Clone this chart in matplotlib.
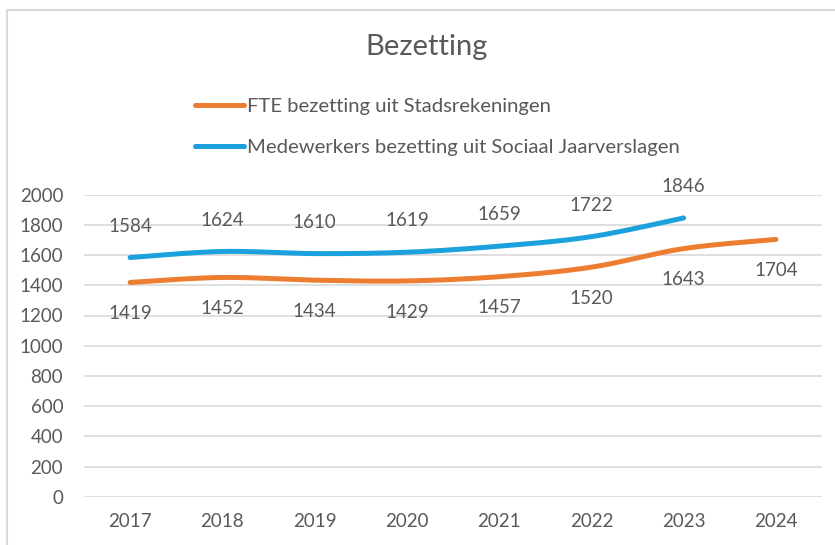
import numpy as np
import matplotlib
matplotlib.use("Agg")
import matplotlib.pyplot as plt
from matplotlib.lines import Line2D

years = ["2017", "2018", "2019", "2020", "2021", "2022", "2023", "2024"]
fte = [1419, 1452, 1434, 1429, 1457, 1520, 1643, 1704]
medewerkers = [1584, 1624, 1610, 1619, 1659, 1722, 1846]
title = "Bezetting"
label_fte = "FTE bezetting uit Stadsrekeningen"
label_med = "Medewerkers bezetting uit Sociaal Jaarverslagen"
yticks = [0, 200, 400, 600, 800, 1000, 1200, 1400, 1600, 1800, 2000]

FONT = ['Lato', 'DejaVu Sans']
plt.rcParams['font.family'] = FONT
TXT = '#595959'
ORANGE = '#ED7D31'
BLUE = '#1BA1DC'
GRID = '#D9D9D9'


def smooth(xs, ys, n=30):
    """Excel-like smoothed line (cubic Bezier with Catmull-Rom controls)."""
    xs = np.asarray(xs, float)
    ys = np.asarray(ys, float)
    P = np.column_stack([xs, ys])
    out = []
    for i in range(len(P) - 1):
        p0 = P[i - 1] if i > 0 else P[i]
        p1 = P[i]
        p2 = P[i + 1]
        p3 = P[i + 2] if i + 2 < len(P) else P[i + 1]
        c1 = p1 + (p2 - p0) / 6.0
        c2 = p2 - (p3 - p1) / 6.0
        t = np.linspace(0, 1, n)[:, None]
        seg = ((1 - t) ** 3) * p1 + 3 * ((1 - t) ** 2) * t * c1 + 3 * (1 - t) * t ** 2 * c2 + t ** 3 * p2
        if i > 0:
            seg = seg[1:]
        out.append(seg)
    out = np.vstack(out)
    return out[:, 0], out[:, 1]


fig = plt.figure(figsize=(8.35, 5.45), dpi=100)
fig.patch.set_facecolor('white')
ax = fig.add_axes([84 / 835, 1 - 496.7 / 545, 738 / 835, 302 / 545])

x_fte = np.arange(len(fte))
x_med = np.arange(len(medewerkers))

sx, sy = smooth(x_fte, fte)
ax.plot(sx, sy, color=ORANGE, lw=3.6, solid_capstyle='round', label=label_fte, zorder=3)
sx, sy = smooth(x_med, medewerkers)
ax.plot(sx, sy, color=BLUE, lw=3.6, solid_capstyle='round', label=label_med, zorder=3)

for xi, v in zip(x_fte, fte):
    ax.annotate(str(v), (xi, v), xytext=(0, -22.5), textcoords='offset points',
                ha='center', va='center', fontsize=13.5, color=TXT)
for xi, v in zip(x_med, medewerkers):
    ax.annotate(str(v), (xi, v), xytext=(0, 22.5), textcoords='offset points',
                ha='center', va='center', fontsize=13.5, color=TXT)

ax.set_xlim(-0.5, len(years) - 0.5)
ax.set_ylim(0, 2000)
ax.set_yticks(yticks)
ax.set_yticklabels([str(t) for t in yticks])
ax.set_xticks(np.arange(len(years)))
ax.set_xticklabels(years)
ax.tick_params(axis='both', length=0, labelsize=13.5, labelcolor=TXT)
ax.tick_params(axis='y', pad=15)
ax.tick_params(axis='x', pad=12)
ax.grid(axis='y', color=GRID, lw=1.2)
ax.set_axisbelow(True)
for s in ax.spines.values():
    s.set_visible(False)

fig.text(427 / 835, 1 - 47 / 545, title, ha='center', va='center', fontsize=21, color=TXT)

leg = ax.legend(loc='upper left', bbox_to_anchor=(195 / 835, 1 - 98 / 545),
                bbox_transform=fig.transFigure, frameon=False, fontsize=14.6,
                labelcolor=TXT, handlelength=2.4, handletextpad=0.18,
                labelspacing=1.15, borderpad=0, borderaxespad=0)

# chart border (left and top visible)
fig.add_artist(Line2D([7 / 835, 7 / 835], [0, 1 - 10 / 545], transform=fig.transFigure,
                      color=GRID, lw=1.5))
fig.add_artist(Line2D([7 / 835, 1], [1 - 10 / 545, 1 - 10 / 545], transform=fig.transFigure,
                      color=GRID, lw=1.5))

fig.savefig('out.png', dpi=100, facecolor='white')
